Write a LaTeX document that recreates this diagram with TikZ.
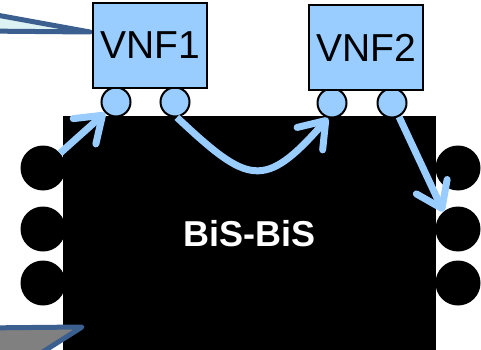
\documentclass[tikz,border=0pt]{standalone}
\usepackage{fontspec}
\setmainfont{Liberation Sans}
\usetikzlibrary{arrows.meta}
\definecolor{lb}{HTML}{99CCFF}
\definecolor{cb}{HTML}{3B5F8F}
\definecolor{cf}{HTML}{DDF2F2}
\definecolor{cg}{HTML}{808080}
\begin{document}
\begin{tikzpicture}[x=1pt,y=-1pt,
 vnf/.style={draw=black,line width=2pt,fill=lb,minimum width=114pt,minimum height=85pt,inner sep=0pt,font=\fontsize{39}{42}\selectfont},
 port/.style={circle,draw=black,line width=2pt,fill=lb,minimum size=29pt,inner sep=0pt},
 bport/.style={circle,fill=black,minimum size=45pt,inner sep=0pt},
 flow/.style={draw=lb,line width=7pt,-{Straight Barb[length=24pt,width=34pt,round]}},
 call/.style={draw=cb,line width=5pt,line join=round}]
\useasboundingbox (0,0) rectangle (481,350);
\clip (0,0) rectangle (481,350);
% black side ports
\node[bport] (l1) at (43,168) {};
\node[bport] (l2) at (43,229) {};
\node[bport] (l3) at (43,283) {};
\node[bport] (r1) at (458,168) {};
\node[bport] (r2) at (458,229) {};
\node[bport] (r3) at (458,283) {};
% big box
\node[fill=black,minimum width=373pt,minimum height=236pt,inner sep=0pt,text=white,
      font=\bfseries\fontsize{36}{40}\selectfont] (bis) at (249.5,234) {BiS-BiS};
% callouts
\path[call,fill=cf] (-20,12) -- (90,32) -- (-20,31) -- cycle;
\path[call,fill=cg] (-20,328) -- (82,327) -- (30,360) -- (-20,360) -- cycle;
% VNF ports
\node[port] (pa) at (116,102) {};
\node[port] (pb) at (175,102) {};
\node[port] (pc) at (332,103) {};
\node[port] (pd) at (392,103) {};
% VNFs
\node[vnf] (v1) at (150,45.5) {VNF1};
\node[vnf] (v2) at (366,47.5) {VNF2};
% flows
\draw[flow] (l1.41) -- (pa.225);
\draw[flow] (pb.-83) .. controls (248,184) and (264,191) .. (pc.255);
\draw[flow] (pd.-63) -- (r2.130);
\end{tikzpicture}
\end{document}
